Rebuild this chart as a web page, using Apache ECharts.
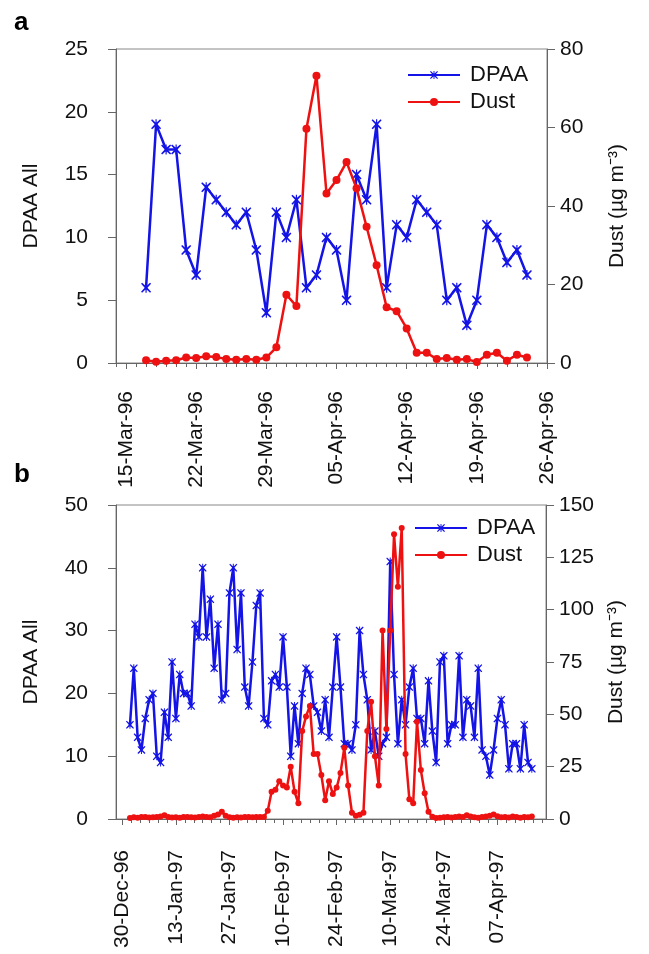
<!DOCTYPE html>
<html>
<head>
<meta charset="utf-8">
<script src="https://cdn.jsdelivr.net/npm/echarts@6/dist/echarts.min.js"></script>
<style>
html,body{margin:0;padding:0;background:#fff;}
#c{width:649px;height:954px;}
</style>
</head>
<body>
<div id="c"></div>
<script>
// ---------- Panel a (daily, starting 17-Mar-96) ----------
const startA = '1996-03-17';
const originA = '1996-03-15';           // tick label origin (15-Mar-96)
const dpaaA = [6,19,17,17,9,7,14,13,12,11,12,9,4,12,10,13,6,7,10,9,5,15,13,19,6,11,10,13,12,11,5,6,3,5,11,10,8,9,7];
const dustA = [0.7,0.3,0.6,0.7,1.4,1.3,1.7,1.5,1.0,0.85,1.0,0.85,1.4,4.0,17.4,14.5,59.7,73.2,43.2,46.6,51.2,44.5,34.7,24.9,14.2,13.2,8.8,2.6,2.6,1.0,1.3,0.85,1.0,0.25,2.1,2.6,0.6,2.1,1.4];
const tickLabelsA = ['15-Mar-96','22-Mar-96','29-Mar-96','05-Apr-96','12-Apr-96','19-Apr-96','26-Apr-96'];

// ---------- Panel b (daily, starting 01-Jan-97) ----------
const startB = '1997-01-01';
const originB = '1996-12-30';           // tick label origin (30-Dec-96)
const dpaaB = [15,24,13,11,16,19,20,10,9,17,13,25,16,23,20,20,18,31,29,40,29,35,24,31,19,20,36,40,27,36,
  21,18,25,34,36,16,15,22,23,21,29,21,10,18,12,20,24,23,18,17,14,19,13,21,29,21,12,12,11,15,
  30,23,19,11,14,10,12,13,41,23,12,19,15,21,24,16,16,12,22,14,9,25,26,12,15,15,26,13,19,18,
  13,24,11,10,7,11,16,19,15,8,12,12,8,15,9,8];
const dustB = [0.5,0.8,0.6,0.9,1.0,0.7,0.8,1.0,1.2,1.8,1.0,0.7,0.8,0.6,0.9,1.0,0.8,0.7,1.0,1.2,
  1.0,0.8,1.5,2.2,3.5,1.5,0.8,0.6,0.8,0.7,1.0,0.9,0.8,1.0,0.9,1.0,
  4,13,14,18,16,15,25,13,7.5,42,49,54,31,31,21,9,18,12,15,22,34,16,3,1.5,2,3,42,56,30,16,90,43,90,136,111,139,31,9.4,7.5,46.5,23.4,12.3,3.5,1.1,
  0.5,0.6,0.8,1.0,0.7,0.9,1.2,1.0,1.8,1.2,0.8,0.6,1.0,1.2,1.5,2.2,1.3,0.8,1.0,0.7,1.2,0.9,0.6,1.0,0.8,1.2];
const tickLabelsB = ['30-Dec-96','13-Jan-97','27-Jan-97','10-Feb-97','24-Feb-97','10-Mar-97','24-Mar-97','07-Apr-97'];

// ---------- helpers ----------
const DAY = 86400000;
function dayOffset(a, b){ return Math.round((Date.parse(a) - Date.parse(b)) / DAY); }
function series2(values, start, origin){
  const o = dayOffset(start, origin);
  return values.map((v,i)=>[o+i, v]);
}
const FONT = '"Liberation Sans", Arial, Helvetica, sans-serif';
const AX = '#666';
const TXT = '#111';
const BLUE = '#1414e6';
const RED = '#ee1111';
const starPath = 'path://M1,0 L5,3.6 L9,0 L10,1 L6.4,5 L10,9 L9,10 L5,6.4 L1,10 L0,9 L3.6,5 L0,1 Z M4.4,0 L5.6,0 L5.6,10 L4.4,10 Z';

const minA = -1, maxA = 42, majA = 7;
const minB = -1.65, maxB = 110.7, majB = 14;

function range(a, b, step){ const r=[]; for(let v=a; v<=b+1e-9; v+=step) r.push(+v.toFixed(4)); return r; }
const majorA = tickLabelsA.map((_,i)=>i*majA);
const minorA = range(Math.ceil(minA), maxA, 1).filter(v=>majorA.indexOf(v)<0);
const majorB = tickLabelsB.map((_,i)=>i*majB);
let minorB = [];
for (let k=Math.ceil(minB/(majB/6)); k*(majB/6)<=maxB; k++){ if(k%6!==0) minorB.push(+(k*majB/6).toFixed(4)); }

function mainX(grid, mn, mx, major, labels, step, margin){
  return {
    type:'value', gridIndex:grid, min:mn, max:mx, position:'bottom',
    axisLine:{show:true, onZero:false, lineStyle:{color:AX, width:1}},
    axisTick:{show:true, customValues:major, length:6, lineStyle:{color:AX}},
    axisLabel:{show:true, customValues:major, rotate:90, margin:margin, color:TXT, fontSize:21, fontFamily:FONT,
      showMinLabel:true, showMaxLabel:true,
      formatter:(v)=>labels[Math.round(v/step)] || ''},
    splitLine:{show:false}
  };
}
function minorX(grid, mn, mx, minor){
  return {
    type:'value', gridIndex:grid, min:mn, max:mx, position:'bottom',
    axisLine:{show:false, onZero:false},
    axisTick:{show:true, customValues:minor, length:4, lineStyle:{color:AX}},
    axisLabel:{show:false},
    splitLine:{show:false}
  };
}
function yAx(grid, pos, mx, step, name, gap){
  return {
    type:'value', gridIndex:grid, position:pos, min:0, max:mx, interval:step,
    name:name, nameLocation:'middle', nameRotate:90, nameGap:gap,
    nameTextStyle:{color:TXT, fontSize:21, fontFamily:FONT},
    axisLine:{show:true, onZero:false, lineStyle:{color:AX, width:1}},
    axisTick:{show:true, length:8, lineStyle:{color:AX}},
    axisLabel:{color:TXT, fontSize:21, fontFamily:FONT, margin: pos==='left'?28:13},
    splitLine:{show:false}
  };
}
function lineSeries(name, data, xi, yi, isStar, size){
  const col = isStar?BLUE:RED;
  return {
    type:'line', name:name, data:data, xAxisIndex:xi, yAxisIndex:yi,
    symbol: isStar?starPath:'circle', symbolSize:size, showAllSymbol:true,
    lineStyle:{color:col, width:2.5}, itemStyle:{color:col, borderWidth:0},
    animation:false, z: isStar?2:3
  };
}

const chart = echarts.init(document.getElementById('c'), null, {renderer:'canvas'});
chart.setOption({
  backgroundColor:'#fff',
  animation:false,
  grid:[
    {left:116, top:49, width:431, height:314, show:true, borderColor:'#888', borderWidth:1, backgroundColor:'transparent'},
    {left:116, top:505, width:430, height:314, show:true, borderColor:'#888', borderWidth:1, backgroundColor:'transparent'}
  ],
  xAxis:[
    mainX(0, minA, maxA, majorA, tickLabelsA, majA, 28),
    minorX(0, minA, maxA, minorA),
    mainX(1, minB, maxB, majorB, tickLabelsB, majB, 31),
    minorX(1, minB, maxB, minorB)
  ],
  yAxis:[
    yAx(0,'left',25,5,'DPAA All',74),
    yAx(0,'right',80,20,'Dust (\u00b5g m\u207b\u00b3)',60),
    yAx(1,'left',50,10,'DPAA All',74),
    yAx(1,'right',150,25,'Dust (\u00b5g m\u207b\u00b3)',60)
  ],
  legend:[
    {orient:'vertical', left:402, top:59, itemWidth:52, itemHeight:10, itemGap:5,
     textStyle:{color:TXT, fontSize:22, fontFamily:FONT, padding:[0,0,0,5]}, data:['DPAA','Dust']},
    {orient:'vertical', left:409, top:512, itemWidth:52, itemHeight:10, itemGap:5,
     textStyle:{color:TXT, fontSize:22, fontFamily:FONT, padding:[0,0,0,5]}, data:['DPAA','Dust']}
  ],
  graphic:[
    {type:'text', left:14, top:10, style:{text:'a', font:'bold 26px '+FONT, fill:'#000'}},
    {type:'text', left:14, top:462, style:{text:'b', font:'bold 26px '+FONT, fill:'#000'}}
  ],
  series:[
    lineSeries('DPAA', series2(dpaaA, startA, originA), 0, 0, true, 10),
    lineSeries('Dust', series2(dustA, startA, originA), 0, 1, false, 8),
    lineSeries('DPAA', series2(dpaaB, startB, originB), 2, 2, true, 8),
    lineSeries('Dust', series2(dustB, startB, originB), 2, 3, false, 6)
  ]
});
</script>
</body>
</html>
